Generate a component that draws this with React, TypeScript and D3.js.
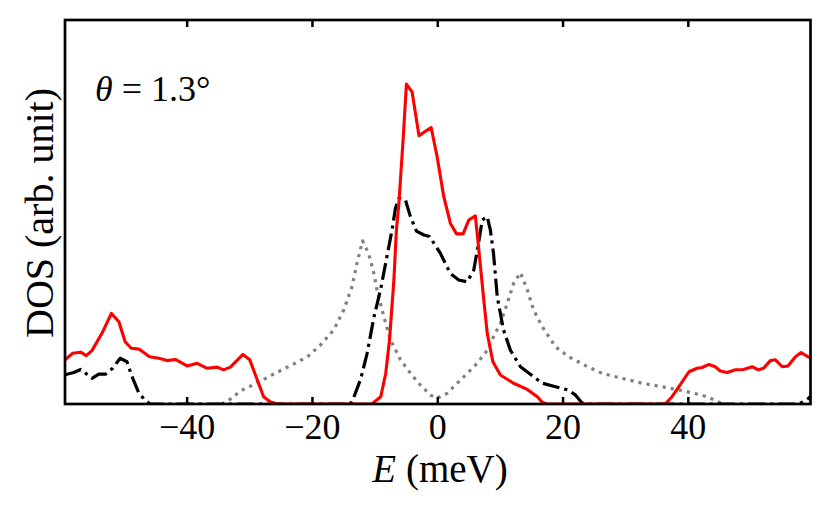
import * as d3 from 'd3';

const W = 830;
const H = 513;
const margin = { top: 20, right: 19.5, bottom: 109, left: 65 };

const xTicks = [-40, -20, 0, 20, 40];

// red solid
const redE = [-59.5, -58.3, -57.0, -56.1, -55.2, -53.6, -52.1, -50.9, -49.9, -48.9, -47.7, -46.0, -44.5, -43.2, -41.9, -40.0, -38.4, -36.8, -35.2, -34.2, -33.1, -31.1, -30.0, -28.8, -27.8, -26.7, -25.5, -10.5, -9.1, -8.3, -7.7, -7.0, -6.6, -6.2, -5.5, -5.0, -4.1, -3.0, -1.05, -0.1, 0.96, 2.03, 3.0, 4.05, 4.95, 6.0, 6.4, 7.3, 7.9, 8.8, 10.0, 12.1, 14.3, 15.9, 16.7, 17.5, 36.3, 37.4, 38.5, 40.1, 41.4, 42.2, 43.3, 44.3, 45.1, 46.2, 47.5, 48.8, 50.2, 51.2, 52.0, 53.1, 53.9, 55.0, 55.9, 57.1, 58.0, 59.1, 59.5];
const redDos = [0.115, 0.132, 0.135, 0.126, 0.139, 0.184, 0.236, 0.214, 0.162, 0.145, 0.143, 0.123, 0.119, 0.113, 0.116, 0.099, 0.106, 0.093, 0.096, 0.089, 0.096, 0.129, 0.115, 0.0625, 0.019, 0.005, 0, 0, 0.019, 0.08, 0.167, 0.323, 0.453, 0.523, 0.696, 0.833, 0.813, 0.699, 0.72, 0.644, 0.54, 0.47, 0.443, 0.443, 0.479, 0.49, 0.427, 0.279, 0.184, 0.11, 0.0755, 0.054, 0.038, 0.019, 0.004, 0, 0, 0.019, 0.045, 0.084, 0.093, 0.095, 0.103, 0.097, 0.086, 0.082, 0.089, 0.09, 0.097, 0.089, 0.093, 0.113, 0.115, 0.097, 0.099, 0.123, 0.134, 0.123, 0.12];

// black dash-dot
const blackE = [-59.5, -58.1, -57.0, -56.2, -55.2, -54.1, -53.0, -51.9, -50.7, -49.6, -48.8, -47.7, -46.6, -45.9, -14.2, -13.7, -12.3, -11.3, -10.2, -9.1, -8.1, -7.3, -6.75, -6.2, -5.15, -4.36, -3.4, -2.2, -1.3, 0.43, 2.0, 3.35, 4.7, 5.75, 6.5, 7.1, 7.9, 8.4, 8.9, 9.5, 10.5, 11.6, 13.2, 15.3, 16.7, 18.8, 20.9, 22.0, 23.0, 23.5, 57.5, 58.4, 59.2, 59.5];
const blackDos = [0.076, 0.082, 0.09, 0.08, 0.067, 0.078, 0.078, 0.093, 0.119, 0.11, 0.071, 0.028, 0.008, 0, 0, 0.005, 0.065, 0.13, 0.225, 0.3, 0.385, 0.453, 0.51, 0.536, 0.531, 0.488, 0.45, 0.44, 0.436, 0.392, 0.34, 0.323, 0.318, 0.349, 0.418, 0.479, 0.488, 0.453, 0.392, 0.279, 0.193, 0.14, 0.097, 0.071, 0.054, 0.045, 0.036, 0.023, 0.003, 0, 0, 0.006, 0.015, 0.02];

// gray dotted
const grayE = [-34.5, -33.6, -31.5, -28.8, -26.2, -23.5, -20.8, -18.7, -16.6, -15.0, -13.7, -12.9, -12.0, -11.0, -10.2, -9.7, -8.6, -7.55, -5.95, -4.36, -2.76, -1.17, -0.1, 1.5, 3.1, 4.7, 6.3, 7.9, 8.9, 10.0, 11.1, 12.1, 13.2, 14.3, 15.3, 16.7, 18.8, 20.9, 23.6, 26.2, 29.4, 32.6, 35.8, 39.0, 42.2, 44.3, 45.4];
const grayDos = [0, 0.006, 0.034, 0.055, 0.078, 0.1, 0.123, 0.154, 0.193, 0.245, 0.305, 0.366, 0.425, 0.39, 0.34, 0.297, 0.227, 0.167, 0.115, 0.08, 0.049, 0.023, 0.015, 0.028, 0.054, 0.08, 0.106, 0.14, 0.175, 0.21, 0.262, 0.314, 0.342, 0.297, 0.245, 0.201, 0.149, 0.123, 0.1, 0.08, 0.067, 0.054, 0.045, 0.035, 0.023, 0.01, 0];

const font = '"Liberation Serif", "DejaVu Serif", serif';

export default function App() {
  const iw = W - margin.left - margin.right;
  const ih = H - margin.top - margin.bottom;
  const x = d3.scaleLinear().domain([-59.5, 59.5]).range([0, iw]);
  const y = d3.scaleLinear().domain([0, 1]).range([ih, 0]);

  const line = d3
    .line<[number, number]>()
    .x((d) => x(d[0]))
    .y((d) => y(d[1]));

  const zip = (es: number[], vs: number[]) => es.map((e, i) => [e, vs[i]] as [number, number]);

  const series = [
    { d: zip(grayE, grayDos), stroke: '#808080', dash: '3.2,5', width: 3.2 },
    { d: zip(blackE, blackDos), stroke: '#000', dash: '17,5,3.2,5', width: 3.2 },
    { d: zip(redE, redDos), stroke: '#ff0000', dash: undefined, width: 3.1 },
  ];

  return (
    <svg width={W} height={H} style={{ position: 'absolute', left: 0, top: 0 }} fontFamily={font}>
      <rect width={W} height={H} fill="#fff" />
      <defs>
        <clipPath id="plot">
          <rect x={0} y={0} width={iw} height={ih} />
        </clipPath>
      </defs>
      <g transform={`translate(${margin.left},${margin.top})`}>
        <g clipPath="url(#plot)">
          {series.map((s, i) => (
            <path
              key={i}
              d={line(s.d) ?? ''}
              fill="none"
              stroke={s.stroke}
              strokeWidth={s.width}
              strokeDasharray={s.dash}
              strokeLinejoin="round"
            />
          ))}
        </g>
        {xTicks.map((t) => (
          <g key={t}>
            <line x1={x(t)} x2={x(t)} y1={ih} y2={ih - 7} stroke="#000" strokeWidth={2.5} />
            <line x1={x(t)} x2={x(t)} y1={0} y2={7} stroke="#000" strokeWidth={2.5} />
            <text x={x(t)} y={ih + 35} textAnchor="middle" fontSize={36}>
              {t < 0 ? `\u2212${Math.abs(t)}` : t}
            </text>
          </g>
        ))}
        <rect x={0} y={0} width={iw} height={ih} fill="none" stroke="#000" strokeWidth={2.7} />
        <text x={30} y={81} fontSize={36}>
          <tspan fontStyle="italic">θ</tspan>
          <tspan> = 1.3°</tspan>
        </text>
      </g>
      <text x={440} y={482} textAnchor="middle" fontSize={39}>
        <tspan fontStyle="italic">E</tspan>
        <tspan> (meV)</tspan>
      </text>
      <text transform="translate(53,213) rotate(-90)" textAnchor="middle" fontSize={40}>
        DOS (arb. unit)
      </text>
    </svg>
  );
}
